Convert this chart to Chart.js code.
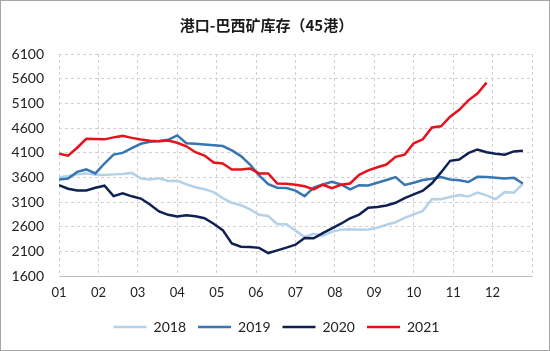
<!DOCTYPE html>
<html>
<head>
<meta charset="utf-8">
<script src="https://cdn.jsdelivr.net/npm/chart.js@4.4.1/dist/chart.umd.min.js"></script>
<style>
html,body{margin:0;padding:0;background:#fff;}
#wrap{width:550px;height:351px;box-sizing:border-box;border:1px solid #a6a6a6;position:relative;}
canvas{display:block;}
</style>
</head>
<body>
<div id="wrap"><canvas id="c" width="548" height="349"></canvas></div>
<script>
const TITLE = '港口-巴西矿库存（45港）';
const MONTH_LABELS = ['01','02','03','04','05','06','07','08','09','10','11','12'];
const Y_MIN = 1600, Y_MAX = 6100, Y_STEP = 500;
const WEEKS_PER_YEAR = 52;

const s2018 = [3600,3625,3660,3680,3650,3645,3660,3670,3690,3575,3555,3580,3525,3530,3460,3400,3360,3300,3180,3085,3035,2950,2840,2815,2650,2650,2520,2390,2455,2415,2495,2540,2550,2540,2545,2580,2640,2690,2780,2850,2920,3160,3155,3200,3240,3210,3290,3235,3160,3300,3290,3470];
const s2019 = [3555,3575,3710,3760,3680,3880,4060,4095,4190,4280,4320,4335,4360,4450,4290,4280,4265,4250,4235,4145,4030,3860,3640,3460,3390,3385,3330,3220,3390,3455,3510,3455,3355,3440,3435,3490,3545,3605,3445,3490,3545,3570,3605,3555,3540,3505,3610,3605,3590,3575,3590,3475];
const s2020 = [3440,3370,3335,3335,3390,3430,3220,3275,3215,3170,3050,2910,2840,2805,2830,2810,2770,2660,2530,2260,2195,2190,2170,2065,2120,2175,2235,2370,2365,2470,2565,2660,2770,2845,2985,3000,3030,3085,3180,3255,3330,3480,3700,3935,3960,4090,4165,4110,4080,4060,4125,4140];
const s2021 = [4080,4040,4200,4380,4375,4370,4410,4440,4400,4365,4340,4330,4345,4300,4230,4110,4040,3900,3880,3760,3760,3780,3680,3680,3475,3470,3450,3420,3355,3450,3380,3450,3475,3650,3740,3805,3860,4015,4060,4290,4370,4610,4635,4830,4970,5160,5300,5520];

const SERIES_NAMES = ['2018','2019','2020','2021'];
const SERIES_COLORS = ['#B4D1EA','#3776B2','#0E2152','#E8121C'];
const SERIES_VALUES = [s2018, s2019, s2020, s2021];
const SERIES_ORDER = [4,3,2,1];

function toPoints(arr){
  return arr.map((v,i)=>({x: i*12/WEEKS_PER_YEAR, y: v}));
}

const datasets = SERIES_VALUES.map((vals,k)=>({
  label: SERIES_NAMES[k],
  data: toPoints(vals),
  borderColor: SERIES_COLORS[k],
  backgroundColor: SERIES_COLORS[k],
  borderWidth: 2.5,
  pointRadius: 0,
  tension: 0,
  fill: false,
  order: SERIES_ORDER[k]
}));

const gridColor = '#D0D0D0';
new Chart(document.getElementById('c'), {
  type: 'line',
  data: { datasets },
  options: {
    responsive: false,
    animation: false,
    layout: { padding: { left: 0, right: 17, top: 0, bottom: 6 } },
    plugins: {
      title: {
        display: true,
        text: TITLE,
        color: '#1a1a1a',
        font: { family: '"Noto Sans CJK SC", sans-serif', size: 15, weight: 'bold', lineHeight: 1.2 },
        padding: { top: 15, bottom: 20 }
      },
      legend: {
        position: 'bottom',
        labels: {
          usePointStyle: true,
          pointStyle: 'line',
          pointStyleWidth: 33,
          color: '#222',
          font: { family: 'Lato, sans-serif', size: 14 },
          padding: 12,
          sort: (a,b) => a.datasetIndex - b.datasetIndex
        }
      },
      tooltip: { enabled: false }
    },
    scales: {
      x: {
        type: 'linear',
        min: 0,
        max: 12,
        afterBuildTicks: (scale) => {
          scale.ticks = [];
          for (let i = 0; i <= 12; i++) scale.ticks.push({ value: i });
        },
        afterFit: (scale) => { scale.height = 32; },
        ticks: {
          autoSkip: false,
          maxRotation: 0,
          padding: 9,
          color: '#222',
          font: { family: 'Lato, sans-serif', size: 13 },
          callback: (v) => MONTH_LABELS[v] !== undefined ? MONTH_LABELS[v] : ''
        },
        grid: { color: gridColor, drawTicks: false },
        border: { display: true, color: '#BFBFBF', width: 1, dash: [3,3] }
      },
      y: {
        min: Y_MIN,
        max: Y_MAX,
        afterFit: (scale) => { scale.width = 58; },
        ticks: {
          stepSize: Y_STEP,
          padding: 15,
          color: '#222',
          font: { family: 'Lato, sans-serif', size: 14 },
          callback: (v) => String(v)
        },
        grid: { color: gridColor, drawTicks: false },
        border: { display: false, dash: [3,3] }
      }
    }
  },
  plugins: [{
    id: 'legendShift',
    afterLayout(chart){
      if (chart.legend) { chart.legend.left += 10; chart.legend.right += 10; }
    }
  }]
});
</script>
</body>
</html>
